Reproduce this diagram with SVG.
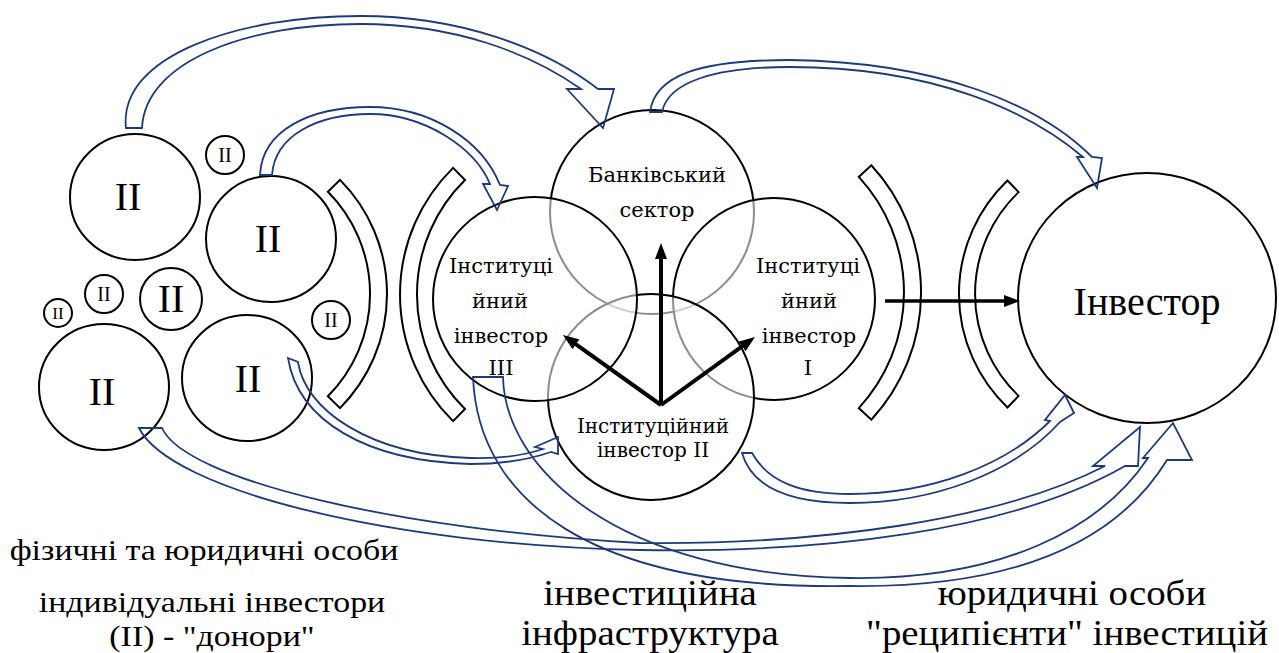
<svg xmlns="http://www.w3.org/2000/svg" width="1279" height="653" viewBox="0 0 1279 653">
  <defs>
    <marker id="ah" viewBox="0 0 16 12" refX="6" refY="6" markerWidth="16" markerHeight="12" markerUnits="userSpaceOnUse" orient="auto">
      <path d="M0,0 L16,6 L0,12 Z" fill="#000"/>
    </marker>
  </defs>
  <style>
    .c{fill:none;stroke:#000;stroke-width:2}
    .cs{fill:#fff;fill-opacity:0.55;stroke:#000;stroke-width:2}
    .br{fill:none;stroke:#000;stroke-width:2}
    .ba{fill:none;stroke:#1f3a78;stroke-width:1.8;stroke-linejoin:miter}
    .ka{fill:none;stroke:#000;stroke-width:4;marker-end:url(#ah)}
  </style>
  <rect width="1279" height="653" fill="#fff"/>

  <!-- individual investors (donors) -->
  <g id="donor-1"><ellipse class="c" cx="135" cy="197" rx="65" ry="63"/><text x="128" y="210" font-family="'Liberation Serif', serif" font-size="40" text-anchor="middle">II</text></g>
  <g id="donor-2"><ellipse class="c" cx="271" cy="239" rx="65" ry="63"/><text x="268" y="252" font-family="'Liberation Serif', serif" font-size="40" text-anchor="middle">II</text></g>
  <g id="donor-3"><ellipse class="c" cx="104" cy="387" rx="65" ry="63"/><text x="102" y="405" font-family="'Liberation Serif', serif" font-size="40" text-anchor="middle">II</text></g>
  <g id="donor-4"><ellipse class="c" cx="247" cy="378" rx="65" ry="63"/><text x="248" y="392" font-family="'Liberation Serif', serif" font-size="40" text-anchor="middle">II</text></g>
  <g id="donor-5"><circle class="c" cx="171" cy="299" r="31"/><text x="171" y="312" font-family="'Liberation Serif', serif" font-size="40" text-anchor="middle">II</text></g>
  <g id="donor-6"><circle class="c" cx="225" cy="155" r="19"/><text x="225" y="162" font-family="'Liberation Serif', serif" font-size="20" text-anchor="middle">II</text></g>
  <g id="donor-7"><circle class="c" cx="104" cy="294" r="19"/><text x="104" y="301" font-family="'Liberation Serif', serif" font-size="20" text-anchor="middle">II</text></g>
  <g id="donor-8"><circle class="c" cx="331" cy="320" r="19"/><text x="331" y="327" font-family="'Liberation Serif', serif" font-size="20" text-anchor="middle">II</text></g>
  <g id="donor-9"><circle class="c" cx="58" cy="313" r="14"/><text x="58" y="319" font-family="'Liberation Serif', serif" font-size="17" text-anchor="middle">II</text></g>

  <!-- brackets around the infrastructure -->
  <g id="brackets">
    <path class="br" d="M340,179.9 A162,162 0 0 1 340,408.1 L327.9,396.2 A145,145 0 0 0 327.9,191.8 Z"/>
    <path class="br" d="M453.1,167.9 A177.5,177.5 0 0 0 453.1,421.1 L465,409 A160.5,160.5 0 0 1 465,180 Z"/>
    <path class="br" d="M871.3,165.3 A187.5,187.5 0 0 1 871.3,419.7 L858.8,408.1 A170.5,170.5 0 0 0 858.8,176.9 Z"/>
    <path class="br" d="M1007.5,180.5 A157,157 0 0 0 1007.5,407.5 L1018.6,395.9 A141,141 0 0 1 1018.6,192.1 Z"/>
  </g>

  <!-- investment infrastructure: overlapping, semi-transparent discs -->
  <g id="bank">
    <circle class="cs" cx="652" cy="212" r="102"/>
    <text x="657" y="182" font-family="'DejaVu Serif', serif" font-size="21" text-anchor="middle">Банківський</text>
    <text x="657" y="217" font-family="'DejaVu Serif', serif" font-size="21" text-anchor="middle">сектор</text>
  </g>
  <g id="inst-1">
    <circle class="cs" cx="774" cy="299" r="101"/>
    <text x="808" y="273" font-family="'DejaVu Serif', serif" font-size="21" text-anchor="middle">Інституці</text>
    <text x="809" y="308" font-family="'DejaVu Serif', serif" font-size="21" text-anchor="middle">йний</text>
    <text x="809" y="343" font-family="'DejaVu Serif', serif" font-size="21" text-anchor="middle">інвестор</text>
    <text x="808" y="375" font-family="'DejaVu Serif', serif" font-size="21" text-anchor="middle">I</text>
  </g>
  <g id="inst-2">
    <circle class="cs" cx="651" cy="397" r="103"/>
    <text x="653" y="433" font-family="'DejaVu Serif', serif" font-size="20" text-anchor="middle">Інституційний</text>
    <text x="653" y="457" font-family="'DejaVu Serif', serif" font-size="20" text-anchor="middle">інвестор II</text>
  </g>
  <g id="inst-3">
    <circle class="cs" cx="535" cy="299" r="102"/>
    <text x="501" y="273" font-family="'DejaVu Serif', serif" font-size="21" text-anchor="middle">Інституці</text>
    <text x="500" y="308" font-family="'DejaVu Serif', serif" font-size="21" text-anchor="middle">йний</text>
    <text x="501" y="343" font-family="'DejaVu Serif', serif" font-size="21" text-anchor="middle">інвестор</text>
    <text x="501" y="375" font-family="'DejaVu Serif', serif" font-size="21" text-anchor="middle">III</text>
  </g>

  <!-- recipient -->
  <g id="investor">
    <ellipse class="c" cx="1147" cy="298" rx="129" ry="125"/>
    <text x="1147" y="315" font-family="'Liberation Serif', serif" font-size="40" text-anchor="middle">Інвестор</text>
  </g>

  <!-- connectors -->
  <g id="connectors">
    <path class="ka" d="M661,405 L661,253"/>
    <path class="ka" d="M661,405 L571.1,340.8"/>
    <path class="ka" d="M661,405 L746.9,342.9"/>
    <path class="ka" d="M885,301 L1010,301" style="stroke-width:3.5"/>

    <path class="ba" d="M126,128 C118,55 240,16 360,16 C460,16 545,48 598,89 L614,89 L603,128 L567,89 L581,89 C530,53 455,24 360,24 C250,24 145,60 142,128 Z"/>
    <path class="ba" d="M260,175 C262,130 310,107 370,107 C430,107 482,140 500,185 L508,186 L497,210 L483,184 L490,184 C475,148 425,114 370,114 C318,114 275,135 272,175 Z"/>
    <path class="ba" d="M650,112 C655,75 700,60 790,60 C940,62 1040,105 1092,157 L1102,158 L1097,188 L1077,157 L1083,157 C1030,112 935,67 790,67 C715,67 668,82 662,112 Z"/>
    <path class="ba" d="M288,358 L298,362 C305,410 370,455 470,458 C500,459 525,455 543,449 L535,447 L558,437 L558,454 L551,452 C525,461 498,464 470,464 C365,461 298,420 288,358 Z"/>
    <path class="ba" d="M742,453 L752,453 C768,482 800,494 850,494 C930,494 1005,466 1050,421 L1045,420 L1065,395 L1074,413 L1060,422 C1015,472 935,503 850,503 C790,503 752,488 742,453 Z"/>
    <path class="ba" d="M139,428 L162,428 C185,480 400,530 640,543 C820,545 1000,520 1105,466 L1093,466 L1140,427 L1138,466 L1125,466 C1010,532 820,553 640,550 C390,545 170,490 139,428 Z"/>
    <path class="ba" d="M473,377 L503,377 C505,470 620,575 850,578 C1000,580 1100,530 1148,458 L1143,458 L1173,423 L1192,460 L1167,460 C1115,545 1010,588 850,586 C590,590 478,500 473,377 Z"/>
  </g>

  <!-- captions (slightly widened serif) -->
  <g id="captions">
    <text transform="translate(204,560) scale(1.13,1)" font-family="'Liberation Serif', serif" font-size="30" text-anchor="middle">фізичні та юридичні особи</text>
    <text transform="translate(212,612) scale(1.13,1)" font-family="'Liberation Serif', serif" font-size="30" text-anchor="middle">індивідуальні інвестори</text>
    <text transform="translate(212,646) scale(1.13,1)" font-family="'Liberation Serif', serif" font-size="30" text-anchor="middle">(II) - "донори"</text>
    <text transform="translate(650,605) scale(1.08,1)" font-family="'Liberation Serif', serif" font-size="36" text-anchor="middle">інвестиційна</text>
    <text transform="translate(650,645) scale(1.08,1)" font-family="'Liberation Serif', serif" font-size="36" text-anchor="middle">інфраструктура</text>
    <text transform="translate(1072,605) scale(1.08,1)" font-family="'Liberation Serif', serif" font-size="36" text-anchor="middle">юридичні особи</text>
    <text transform="translate(1067,645) scale(1.08,1)" font-family="'Liberation Serif', serif" font-size="36" text-anchor="middle">"реципієнти" інвестицій</text>
  </g>
</svg>
